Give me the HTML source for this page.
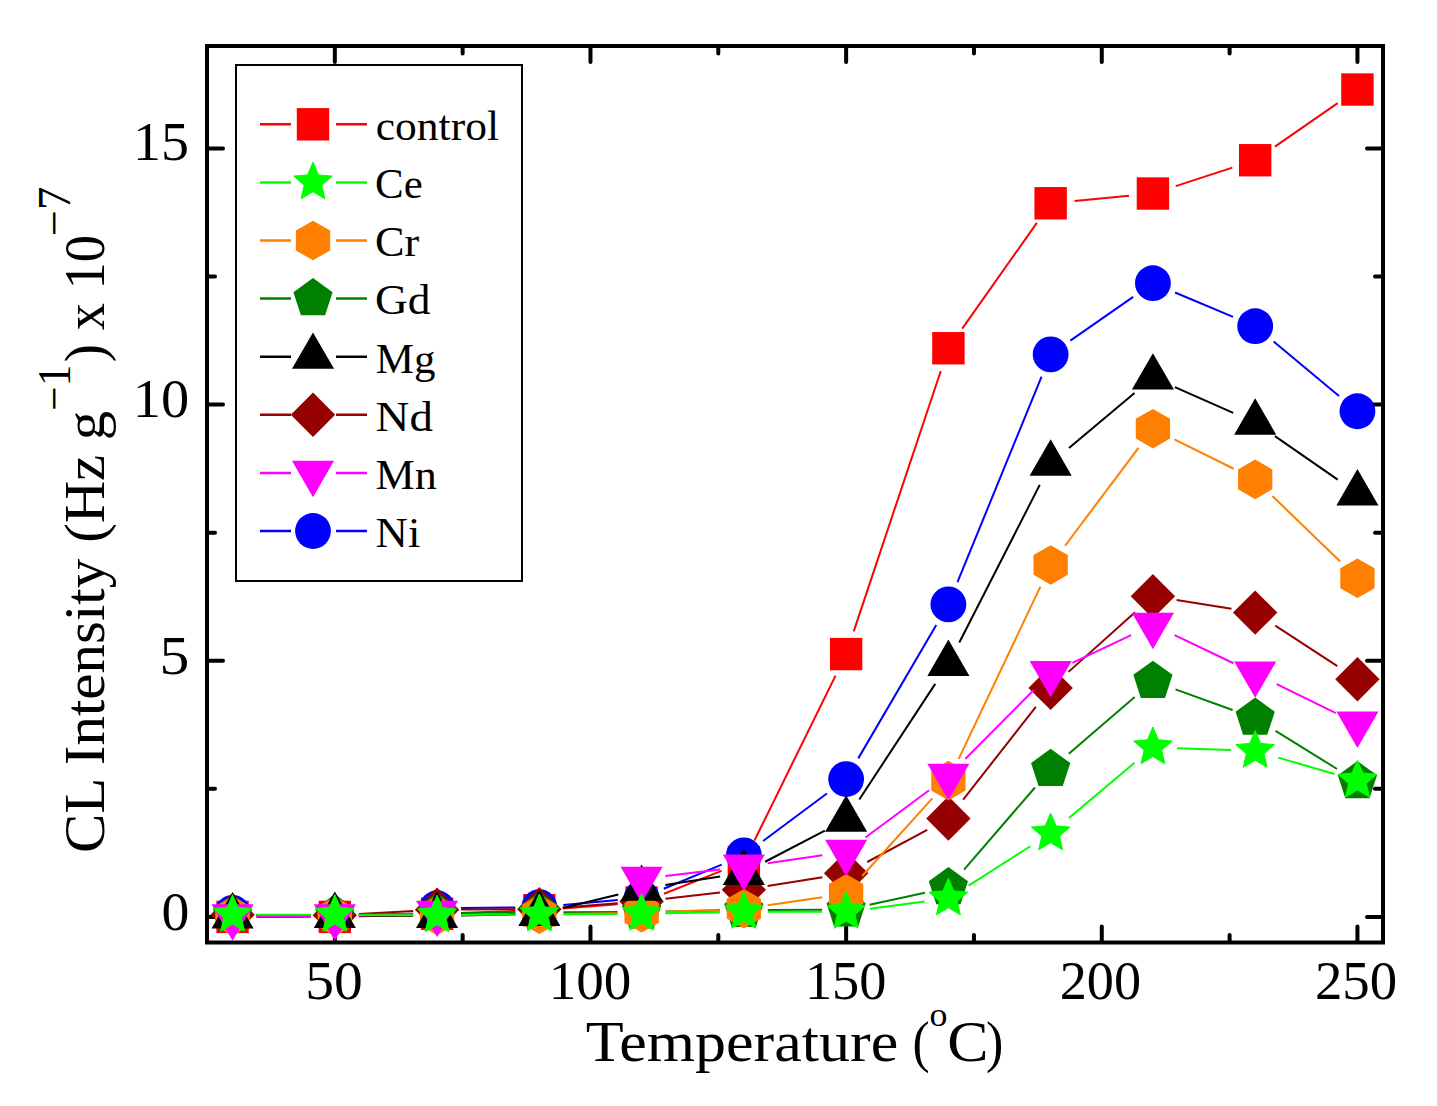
<!DOCTYPE html>
<html><head><meta charset="utf-8"><style>
html,body{margin:0;padding:0;background:#fff;width:1437px;height:1106px;overflow:hidden}
svg{display:block;font-family:"Liberation Serif",serif}
</style></head><body>
<svg width="1437" height="1106" viewBox="0 0 1437 1106">
<rect width="1437" height="1106" fill="#fff"/>
<rect x="207" y="46" width="1176" height="896.5" fill="none" stroke="#000" stroke-width="4"/>
<path d="M334.83 940.5v-14M334.83 48v14M462.65 940.5v-5.5M462.65 48v5.5M590.48 940.5v-14M590.48 48v14M718.3 940.5v-5.5M718.3 48v5.5M846.13 940.5v-14M846.13 48v14M973.96 940.5v-5.5M973.96 48v5.5M1101.78 940.5v-14M1101.78 48v14M1229.61 940.5v-5.5M1229.61 48v5.5M1357.43 940.5v-14M1357.43 48v14M209 916.89h14M1381 916.89h-14M209 788.81h6M1381 788.81h-6M209 660.74h14M1381 660.74h-14M209 532.67h6M1381 532.67h-6M209 404.6h14M1381 404.6h-14M209 276.53h6M1381 276.53h-6M209 148.46h14M1381 148.46h-14" stroke="#000" stroke-width="4" stroke-linecap="round" fill="none"/>
<g stroke-width="2"><line x1="256.57" y1="916.89" x2="310.83" y2="916.89" stroke="#FF0000"/><line x1="358.82" y1="916.16" x2="413.1" y2="914.53" stroke="#FF0000"/><line x1="461.07" y1="912.97" x2="515.36" y2="911.07" stroke="#FF0000"/><line x1="563.28" y1="908.43" x2="617.68" y2="904.34" stroke="#FF0000"/><line x1="663.92" y1="893.71" x2="721.55" y2="870.9" stroke="#FF0000"/><line x1="754.46" y1="840.53" x2="835.54" y2="675.62" stroke="#FF0000"/><line x1="853.74" y1="631.32" x2="940.78" y2="371.01" stroke="#FF0000"/><line x1="962.22" y1="328.64" x2="1036.82" y2="222.88" stroke="#FF0000"/><line x1="1074.54" y1="201" x2="1129.02" y2="195.81" stroke="#FF0000"/><line x1="1175.73" y1="186.11" x2="1232.35" y2="167.67" stroke="#FF0000"/><line x1="1274.92" y1="146.59" x2="1337.69" y2="103.19" stroke="#FF0000"/></g>
<rect x="216.37" y="900.69" width="32.4" height="32.4" fill="#FF0000"/><rect x="318.63" y="900.69" width="32.4" height="32.4" fill="#FF0000"/><rect x="420.89" y="897.61" width="32.4" height="32.4" fill="#FF0000"/><rect x="523.15" y="894.03" width="32.4" height="32.4" fill="#FF0000"/><rect x="625.41" y="886.34" width="32.4" height="32.4" fill="#FF0000"/><rect x="727.67" y="845.87" width="32.4" height="32.4" fill="#FF0000"/><rect x="829.93" y="637.88" width="32.4" height="32.4" fill="#FF0000"/><rect x="932.19" y="332.05" width="32.4" height="32.4" fill="#FF0000"/><rect x="1034.45" y="187.07" width="32.4" height="32.4" fill="#FF0000"/><rect x="1136.71" y="177.34" width="32.4" height="32.4" fill="#FF0000"/><rect x="1238.97" y="144.04" width="32.4" height="32.4" fill="#FF0000"/><rect x="1341.23" y="73.34" width="32.4" height="32.4" fill="#FF0000"/>
<g stroke-width="2"><line x1="461.09" y1="907.94" x2="515.35" y2="907.39" stroke="#0000FF"/><line x1="563.25" y1="905" x2="617.71" y2="900.09" stroke="#0000FF"/><line x1="663.77" y1="888.72" x2="721.71" y2="864.63" stroke="#0000FF"/><line x1="763.1" y1="841.06" x2="826.9" y2="793.44" stroke="#0000FF"/><line x1="858.26" y1="758.37" x2="936.27" y2="625.1" stroke="#0000FF"/><line x1="957.48" y1="582.18" x2="1041.57" y2="376.61" stroke="#0000FF"/><line x1="1070.35" y1="340.68" x2="1133.22" y2="296.9" stroke="#0000FF"/><line x1="1175.03" y1="292.5" x2="1233.05" y2="316.91" stroke="#0000FF"/><line x1="1273.63" y1="341.57" x2="1338.98" y2="395.91" stroke="#0000FF"/></g>
<circle cx="232.57" cy="912.79" r="17.9" fill="#0000FF"/><circle cx="437.09" cy="908.18" r="17.9" fill="#0000FF"/><circle cx="539.35" cy="907.15" r="17.9" fill="#0000FF"/><circle cx="641.61" cy="897.93" r="17.9" fill="#0000FF"/><circle cx="743.87" cy="855.41" r="17.9" fill="#0000FF"/><circle cx="846.13" cy="779.08" r="17.9" fill="#0000FF"/><circle cx="948.39" cy="604.39" r="17.9" fill="#0000FF"/><circle cx="1050.65" cy="354.4" r="17.9" fill="#0000FF"/><circle cx="1152.91" cy="283.19" r="17.9" fill="#0000FF"/><circle cx="1255.17" cy="326.22" r="17.9" fill="#0000FF"/><circle cx="1357.43" cy="411.26" r="17.9" fill="#0000FF"/>
<g stroke-width="2"><line x1="256.56" y1="914.96" x2="310.83" y2="915.23" stroke="#950000"/><line x1="358.79" y1="914.03" x2="413.12" y2="911.03" stroke="#950000"/><line x1="461.09" y1="909.59" x2="515.35" y2="909.32" stroke="#950000"/><line x1="563.28" y1="907.4" x2="617.68" y2="903.32" stroke="#950000"/><line x1="665.45" y1="898.77" x2="720.03" y2="892.48" stroke="#950000"/><line x1="767.57" y1="885.94" x2="822.43" y2="877.14" stroke="#950000"/><line x1="867.28" y1="862" x2="927.24" y2="829.87" stroke="#950000"/><line x1="963.19" y1="799.63" x2="1035.86" y2="706.79" stroke="#950000"/><line x1="1068.52" y1="671.87" x2="1135.04" y2="612.22" stroke="#950000"/><line x1="1176.61" y1="599.99" x2="1231.48" y2="608.79" stroke="#950000"/><line x1="1275.29" y1="625.69" x2="1337.32" y2="666.09" stroke="#950000"/></g>
<polygon points="232.57,892.64 254.77,914.84 232.57,937.04 210.37,914.84" fill="#950000"/><polygon points="334.83,893.15 357.03,915.35 334.83,937.55 312.63,915.35" fill="#950000"/><polygon points="437.09,887.51 459.29,909.71 437.09,931.91 414.89,909.71" fill="#950000"/><polygon points="539.35,887 561.55,909.2 539.35,931.4 517.15,909.2" fill="#950000"/><polygon points="641.61,879.32 663.81,901.52 641.61,923.72 619.41,901.52" fill="#950000"/><polygon points="743.87,867.53 766.07,889.73 743.87,911.93 721.67,889.73" fill="#950000"/><polygon points="846.13,851.14 868.33,873.34 846.13,895.54 823.93,873.34" fill="#950000"/><polygon points="948.39,796.33 970.59,818.53 948.39,840.73 926.19,818.53" fill="#950000"/><polygon points="1050.65,665.69 1072.85,687.89 1050.65,710.09 1028.45,687.89" fill="#950000"/><polygon points="1152.91,573.99 1175.11,596.19 1152.91,618.39 1130.71,596.19" fill="#950000"/><polygon points="1255.17,590.39 1277.37,612.59 1255.17,634.79 1232.97,612.59" fill="#950000"/><polygon points="1357.43,656.99 1379.63,679.19 1357.43,701.39 1335.23,679.19" fill="#950000"/>
<g stroke-width="2"><line x1="256.56" y1="915.23" x2="310.83" y2="914.96" stroke="#008000"/><line x1="358.82" y1="914.48" x2="413.09" y2="913.66" stroke="#008000"/><line x1="461.09" y1="913.06" x2="515.35" y2="912.52" stroke="#008000"/><line x1="563.35" y1="912.15" x2="617.61" y2="911.88" stroke="#008000"/><line x1="665.61" y1="911.4" x2="719.87" y2="910.59" stroke="#008000"/><line x1="767.87" y1="910.11" x2="822.13" y2="909.83" stroke="#008000"/><line x1="869.59" y1="904.66" x2="924.93" y2="892.74" stroke="#008000"/><line x1="964.08" y1="869.53" x2="1034.96" y2="787.51" stroke="#008000"/><line x1="1068.83" y1="753.68" x2="1134.73" y2="696.9" stroke="#008000"/><line x1="1175.49" y1="689.38" x2="1232.6" y2="709.98" stroke="#008000"/><line x1="1275.56" y1="730.78" x2="1337.05" y2="768.98" stroke="#008000"/></g>
<polygon points="232.57,894.75 252.16,908.98 244.67,932.01 220.46,932.01 212.97,908.98" fill="#008000"/><polygon points="334.83,894.24 354.42,908.47 346.93,931.5 322.72,931.5 315.23,908.47" fill="#008000"/><polygon points="437.09,892.7 456.68,906.93 449.2,929.97 424.98,929.97 417.5,906.93" fill="#008000"/><polygon points="539.35,891.68 558.94,905.91 551.46,928.94 527.24,928.94 519.76,905.91" fill="#008000"/><polygon points="641.61,891.16 661.2,905.4 653.72,928.43 629.5,928.43 622.02,905.4" fill="#008000"/><polygon points="743.87,889.63 763.46,903.86 755.98,926.89 731.76,926.89 724.28,903.86" fill="#008000"/><polygon points="846.13,889.11 865.72,903.35 858.24,926.38 834.02,926.38 826.54,903.35" fill="#008000"/><polygon points="948.39,867.09 967.98,881.32 960.5,904.35 936.28,904.35 928.8,881.32" fill="#008000"/><polygon points="1050.65,748.75 1070.24,762.98 1062.76,786.01 1038.54,786.01 1031.06,762.98" fill="#008000"/><polygon points="1152.91,660.63 1172.5,674.87 1165.02,697.9 1140.8,697.9 1133.32,674.87" fill="#008000"/><polygon points="1255.17,697.52 1274.77,711.75 1267.28,734.78 1243.07,734.78 1235.58,711.75" fill="#008000"/><polygon points="1357.43,761.04 1377.03,775.28 1369.54,798.31 1345.33,798.31 1337.84,775.28" fill="#008000"/>
<g stroke-width="2"><line x1="256.56" y1="915.98" x2="310.83" y2="916.25" stroke="#FF8000"/><line x1="358.82" y1="916.13" x2="413.09" y2="915.59" stroke="#FF8000"/><line x1="461.09" y1="915.11" x2="515.35" y2="914.56" stroke="#FF8000"/><line x1="563.35" y1="913.96" x2="617.61" y2="913.15" stroke="#FF8000"/><line x1="665.59" y1="911.83" x2="719.89" y2="909.65" stroke="#FF8000"/><line x1="767.62" y1="905.24" x2="822.38" y2="897.28" stroke="#FF8000"/><line x1="862.22" y1="876.02" x2="932.3" y2="798.43" stroke="#FF8000"/><line x1="958.67" y1="758.93" x2="1040.37" y2="586.63" stroke="#FF8000"/><line x1="1065.06" y1="545.75" x2="1138.51" y2="447.87" stroke="#FF8000"/><line x1="1174.41" y1="439.34" x2="1233.67" y2="468.73" stroke="#FF8000"/><line x1="1272.43" y1="496.08" x2="1340.18" y2="561.58" stroke="#FF8000"/></g>
<polygon points="232.57,896.06 249.71,905.96 249.71,925.76 232.57,935.66 215.42,925.76 215.42,905.96" fill="#FF8000"/><polygon points="334.83,896.57 351.97,906.47 351.97,926.27 334.83,936.17 317.68,926.27 317.68,906.47" fill="#FF8000"/><polygon points="437.09,895.55 454.23,905.45 454.23,925.25 437.09,935.15 419.94,925.25 419.94,905.45" fill="#FF8000"/><polygon points="539.35,894.52 556.5,904.42 556.5,924.22 539.35,934.12 522.2,924.22 522.2,904.42" fill="#FF8000"/><polygon points="641.61,892.99 658.76,902.89 658.76,922.69 641.61,932.59 624.46,922.69 624.46,902.89" fill="#FF8000"/><polygon points="743.87,888.89 761.02,898.79 761.02,918.59 743.87,928.49 726.72,918.59 726.72,898.79" fill="#FF8000"/><polygon points="846.13,874.03 863.28,883.93 863.28,903.73 846.13,913.63 828.98,903.73 828.98,883.93" fill="#FF8000"/><polygon points="948.39,760.82 965.54,770.72 965.54,790.52 948.39,800.42 931.24,790.52 931.24,770.72" fill="#FF8000"/><polygon points="1050.65,545.15 1067.8,555.05 1067.8,574.85 1050.65,584.75 1033.5,574.85 1033.5,555.05" fill="#FF8000"/><polygon points="1152.91,408.88 1170.06,418.78 1170.06,438.58 1152.91,448.48 1135.77,438.58 1135.77,418.78" fill="#FF8000"/><polygon points="1255.17,459.59 1272.32,469.49 1272.32,489.29 1255.17,499.19 1238.03,489.29 1238.03,469.49" fill="#FF8000"/><polygon points="1357.43,558.46 1374.58,568.36 1374.58,588.16 1357.43,598.06 1340.29,588.16 1340.29,568.36" fill="#FF8000"/>
<g stroke-width="2"><line x1="256.56" y1="916.25" x2="310.83" y2="915.98" stroke="#000000"/><line x1="358.83" y1="915.86" x2="413.09" y2="915.86" stroke="#000000"/><line x1="461.08" y1="915.38" x2="515.35" y2="914.29" stroke="#000000"/><line x1="562.66" y1="908.09" x2="618.3" y2="894.43" stroke="#000000"/><line x1="665.32" y1="885.03" x2="720.15" y2="876.51" stroke="#000000"/><line x1="765.15" y1="861.74" x2="824.85" y2="830.64" stroke="#000000"/><line x1="859.3" y1="799.49" x2="935.22" y2="683.88" stroke="#000000"/><line x1="959.3" y1="642.44" x2="1039.74" y2="484.89" stroke="#000000"/><line x1="1069.01" y1="448.06" x2="1134.55" y2="392.9" stroke="#000000"/><line x1="1174.87" y1="387.13" x2="1233.21" y2="412.85" stroke="#000000"/><line x1="1274.92" y1="436.18" x2="1337.69" y2="479.58" stroke="#000000"/></g>
<polygon points="232.57,892.07 253.61,928.52 211.52,928.52" fill="#000000"/><polygon points="334.83,891.56 355.87,928.01 313.78,928.01" fill="#000000"/><polygon points="437.09,891.56 458.13,928.01 416.04,928.01" fill="#000000"/><polygon points="539.35,889.51 560.39,925.96 518.3,925.96" fill="#000000"/><polygon points="641.61,864.41 662.65,900.86 620.56,900.86" fill="#000000"/><polygon points="743.87,848.53 764.91,884.98 722.83,884.98" fill="#000000"/><polygon points="846.13,795.25 867.17,831.7 825.09,831.7" fill="#000000"/><polygon points="948.39,639.52 969.44,675.97 927.35,675.97" fill="#000000"/><polygon points="1050.65,439.21 1071.7,475.66 1029.61,475.66" fill="#000000"/><polygon points="1152.91,353.15 1173.96,389.6 1131.87,389.6" fill="#000000"/><polygon points="1255.17,398.23 1276.22,434.68 1234.13,434.68" fill="#000000"/><polygon points="1357.43,468.93 1378.48,505.38 1336.39,505.38" fill="#000000"/>
<g stroke-width="2"><line x1="256.57" y1="916.37" x2="310.83" y2="916.37" stroke="#FF00FF"/><line x1="358.81" y1="915.53" x2="413.1" y2="913.63" stroke="#FF00FF"/><line x1="665.44" y1="876.11" x2="720.04" y2="869.55" stroke="#FF00FF"/><line x1="767.62" y1="863.23" x2="822.38" y2="855.28" stroke="#FF00FF"/><line x1="865.41" y1="837.53" x2="929.11" y2="790.3" stroke="#FF00FF"/><line x1="965.3" y1="758.98" x2="1033.74" y2="690.07" stroke="#FF00FF"/><line x1="1072.37" y1="662.81" x2="1131.2" y2="635.11" stroke="#FF00FF"/><line x1="1174.58" y1="635.2" x2="1233.5" y2="663.24" stroke="#FF00FF"/><line x1="1276.72" y1="684.13" x2="1335.89" y2="713.18" stroke="#FF00FF"/></g>
<polygon points="232.57,940.67 211.52,904.22 253.61,904.22" fill="#FF00FF"/><polygon points="334.83,940.67 313.78,904.22 355.87,904.22" fill="#FF00FF"/><polygon points="437.09,937.09 416.04,900.64 458.13,900.64" fill="#FF00FF"/><polygon points="641.61,903.28 620.56,866.83 662.65,866.83" fill="#FF00FF"/><polygon points="743.87,890.98 722.83,854.53 764.91,854.53" fill="#FF00FF"/><polygon points="846.13,876.13 825.09,839.68 867.17,839.68" fill="#FF00FF"/><polygon points="948.39,800.31 927.35,763.86 969.44,763.86" fill="#FF00FF"/><polygon points="1050.65,697.34 1029.61,660.89 1071.7,660.89" fill="#FF00FF"/><polygon points="1152.91,649.18 1131.87,612.73 1173.96,612.73" fill="#FF00FF"/><polygon points="1255.17,697.85 1234.13,661.4 1276.22,661.4" fill="#FF00FF"/><polygon points="1357.43,748.05 1336.39,711.6 1378.48,711.6" fill="#FF00FF"/>
<g stroke-width="2"><line x1="256.57" y1="914.84" x2="310.83" y2="914.84" stroke="#00FF00"/><line x1="358.83" y1="914.96" x2="413.09" y2="915.23" stroke="#00FF00"/><line x1="461.09" y1="915.11" x2="515.35" y2="914.56" stroke="#00FF00"/><line x1="563.35" y1="914.2" x2="617.61" y2="913.93" stroke="#00FF00"/><line x1="665.6" y1="913.33" x2="719.87" y2="912.24" stroke="#00FF00"/><line x1="767.87" y1="911.76" x2="822.13" y2="911.76" stroke="#00FF00"/><line x1="869.93" y1="908.66" x2="924.59" y2="901.54" stroke="#00FF00"/><line x1="968.64" y1="885.56" x2="1030.4" y2="846.27" stroke="#00FF00"/><line x1="1069.01" y1="817.93" x2="1134.55" y2="762.77" stroke="#00FF00"/><line x1="1176.9" y1="748.16" x2="1231.19" y2="750.06" stroke="#00FF00"/><line x1="1278.22" y1="757.6" x2="1334.39" y2="773.92" stroke="#00FF00"/></g>
<polygon points="232.57,894.54 238.03,907.31 251.87,908.56 241.41,917.71 244.5,931.26 232.57,924.14 220.63,931.26 223.72,917.71 213.26,908.56 227.1,907.31" fill="#00FF00" stroke="#00FF00" stroke-width="1" stroke-linejoin="round"/><polygon points="334.83,894.54 340.29,907.31 354.13,908.56 343.67,917.71 346.76,931.26 334.83,924.14 322.89,931.26 325.98,917.71 315.52,908.56 329.36,907.31" fill="#00FF00" stroke="#00FF00" stroke-width="1" stroke-linejoin="round"/><polygon points="437.09,895.05 442.55,907.82 456.39,909.08 445.93,918.22 449.02,931.77 437.09,924.65 425.15,931.77 428.24,918.22 417.78,909.08 431.62,907.82" fill="#00FF00" stroke="#00FF00" stroke-width="1" stroke-linejoin="round"/><polygon points="539.35,894.02 544.81,906.8 558.65,908.05 548.19,917.2 551.28,930.75 539.35,923.62 527.42,930.75 530.5,917.2 520.04,908.05 533.88,906.8" fill="#00FF00" stroke="#00FF00" stroke-width="1" stroke-linejoin="round"/><polygon points="641.61,893.51 647.08,906.29 660.92,907.54 650.45,916.69 653.54,930.24 641.61,923.11 629.68,930.24 632.76,916.69 622.3,907.54 636.14,906.29" fill="#00FF00" stroke="#00FF00" stroke-width="1" stroke-linejoin="round"/><polygon points="743.87,891.46 749.34,904.24 763.18,905.49 752.71,914.64 755.8,928.19 743.87,921.06 731.94,928.19 735.02,914.64 724.56,905.49 738.4,904.24" fill="#00FF00" stroke="#00FF00" stroke-width="1" stroke-linejoin="round"/><polygon points="846.13,891.46 851.6,904.24 865.44,905.49 854.98,914.64 858.06,928.19 846.13,921.06 834.2,928.19 837.29,914.64 826.82,905.49 840.66,904.24" fill="#00FF00" stroke="#00FF00" stroke-width="1" stroke-linejoin="round"/><polygon points="948.39,878.14 953.86,890.92 967.7,892.17 957.24,901.32 960.32,914.87 948.39,907.74 936.46,914.87 939.55,901.32 929.08,892.17 942.92,890.92" fill="#00FF00" stroke="#00FF00" stroke-width="1" stroke-linejoin="round"/><polygon points="1050.65,813.08 1056.12,825.86 1069.96,827.11 1059.5,836.26 1062.58,849.81 1050.65,842.68 1038.72,849.81 1041.81,836.26 1031.35,827.11 1045.19,825.86" fill="#00FF00" stroke="#00FF00" stroke-width="1" stroke-linejoin="round"/><polygon points="1152.91,727.02 1158.38,739.8 1172.22,741.05 1161.76,750.19 1164.85,763.74 1152.91,756.62 1140.98,763.74 1144.07,750.19 1133.61,741.05 1147.45,739.8" fill="#00FF00" stroke="#00FF00" stroke-width="1" stroke-linejoin="round"/><polygon points="1255.17,730.61 1260.64,743.38 1274.48,744.63 1264.02,753.78 1267.11,767.33 1255.17,760.21 1243.24,767.33 1246.33,753.78 1235.87,744.63 1249.71,743.38" fill="#00FF00" stroke="#00FF00" stroke-width="1" stroke-linejoin="round"/><polygon points="1357.43,760.32 1362.9,773.09 1376.74,774.34 1366.28,783.49 1369.37,797.04 1357.43,789.92 1345.5,797.04 1348.59,783.49 1338.13,774.34 1351.97,773.09" fill="#00FF00" stroke="#00FF00" stroke-width="1" stroke-linejoin="round"/>

<g font-family="Liberation Serif" fill="#000"><text x="161.38" y="930.2" font-size="55.7" textLength="27.84" lengthAdjust="spacingAndGlyphs">0</text>
<text x="159.54" y="674" font-size="55.7" textLength="29.79" lengthAdjust="spacingAndGlyphs">5</text>
<text x="132.84" y="417.3" font-size="55.7" textLength="56.41" lengthAdjust="spacingAndGlyphs">10</text>
<text x="133.09" y="160.2" font-size="55.7" textLength="55.9" lengthAdjust="spacingAndGlyphs">15</text>
<text x="305.36" y="999.3" font-size="55.7" textLength="57.53" lengthAdjust="spacingAndGlyphs">50</text>
<text x="548.76" y="999.3" font-size="55.7" textLength="82.64" lengthAdjust="spacingAndGlyphs">100</text>
<text x="804.93" y="999.3" font-size="55.7" textLength="81.44" lengthAdjust="spacingAndGlyphs">150</text>
<text x="1059.72" y="999.3" font-size="55.7" textLength="81.35" lengthAdjust="spacingAndGlyphs">200</text>
<text x="1314.89" y="999.3" font-size="55.7" textLength="82.2" lengthAdjust="spacingAndGlyphs">250</text>
<text x="585.79" y="1061" font-size="56" textLength="312.43" lengthAdjust="spacingAndGlyphs">Temperature</text>
<text x="912.54" y="1061" font-size="56" textLength="17.11" lengthAdjust="spacingAndGlyphs">(</text>
<text x="929.53" y="1025.6" font-size="34" textLength="17.93" lengthAdjust="spacingAndGlyphs">o</text>
<text x="947.16" y="1061" font-size="56" textLength="41.25" lengthAdjust="spacingAndGlyphs">C</text>
<text x="986.02" y="1061" font-size="56" textLength="17.37" lengthAdjust="spacingAndGlyphs">)</text>
<text transform="rotate(-90)" x="-853.1" y="104.4" font-size="56" textLength="294.33" lengthAdjust="spacingAndGlyphs">CL Intensity</text>
<text transform="rotate(-90)" x="-542.88" y="104.4" font-size="56" textLength="132" lengthAdjust="spacingAndGlyphs">(Hz g</text>
<text transform="rotate(-90)" x="-410.76" y="69.5" font-size="47" textLength="46.06" lengthAdjust="spacingAndGlyphs">−1</text>
<text transform="rotate(-90)" x="-362.16" y="104.4" font-size="56" textLength="127.23" lengthAdjust="spacingAndGlyphs">) x 10</text>
<text transform="rotate(-90)" x="-236.31" y="70" font-size="47" textLength="49.45" lengthAdjust="spacingAndGlyphs">−7</text></g>
<g font-family="Liberation Serif" fill="#000"><rect x="236" y="65" width="286" height="516" fill="#fff" stroke="#000" stroke-width="2"/>
<path d="M260 124.3h31M336 124.3h31" stroke="#FF0000" stroke-width="2.5"/>
<rect x="296.8" y="108.1" width="32.4" height="32.4" fill="#FF0000"/>
<text x="375.84" y="139.8" font-size="42.3" textLength="123.13" lengthAdjust="spacingAndGlyphs">control</text>
<path d="M260 182.4h31M336 182.4h31" stroke="#00FF00" stroke-width="2.5"/>
<polygon points="313,162.1 318.47,174.88 332.31,176.13 321.84,185.27 324.93,198.82 313,191.7 301.07,198.82 304.16,185.27 293.69,176.13 307.53,174.88" fill="#00FF00" stroke="#00FF00" stroke-width="1" stroke-linejoin="round"/>
<text x="375.04" y="198" font-size="42.3" textLength="47.65" lengthAdjust="spacingAndGlyphs">Ce</text>
<path d="M260 240.5h31M336 240.5h31" stroke="#FF8000" stroke-width="2.5"/>
<polygon points="313,220.7 330.15,230.6 330.15,250.4 313,260.3 295.85,250.4 295.85,230.6" fill="#FF8000"/>
<text x="375.09" y="256.2" font-size="42.3" textLength="44.2" lengthAdjust="spacingAndGlyphs">Cr</text>
<path d="M260 298.6h31M336 298.6h31" stroke="#008000" stroke-width="2.5"/>
<polygon points="313,278 332.59,292.23 325.11,315.27 300.89,315.27 293.41,292.23" fill="#008000"/>
<text x="375.04" y="314.4" font-size="42.3" textLength="55.52" lengthAdjust="spacingAndGlyphs">Gd</text>
<path d="M260 356.7h31M336 356.7h31" stroke="#000000" stroke-width="2.5"/>
<polygon points="313,332.4 334.04,368.85 291.96,368.85" fill="#000000"/>
<text x="375.66" y="372.6" font-size="42.3" textLength="59.76" lengthAdjust="spacingAndGlyphs">Mg</text>
<path d="M260 414.8h31M336 414.8h31" stroke="#950000" stroke-width="2.5"/>
<polygon points="313,392.6 335.2,414.8 313,437 290.8,414.8" fill="#950000"/>
<text x="375.55" y="430.8" font-size="42.3" textLength="57.32" lengthAdjust="spacingAndGlyphs">Nd</text>
<path d="M260 472.9h31M336 472.9h31" stroke="#FF00FF" stroke-width="2.5"/>
<polygon points="313,497.2 291.96,460.75 334.04,460.75" fill="#FF00FF"/>
<text x="375.63" y="489" font-size="42.3" textLength="61.24" lengthAdjust="spacingAndGlyphs">Mn</text>
<path d="M260 531h31M336 531h31" stroke="#0000FF" stroke-width="2.5"/>
<circle cx="313" cy="531" r="17.9" fill="#0000FF"/>
<text x="375.61" y="547.2" font-size="42.3" textLength="44.74" lengthAdjust="spacingAndGlyphs">Ni</text></g>
</svg>
</body></html>
